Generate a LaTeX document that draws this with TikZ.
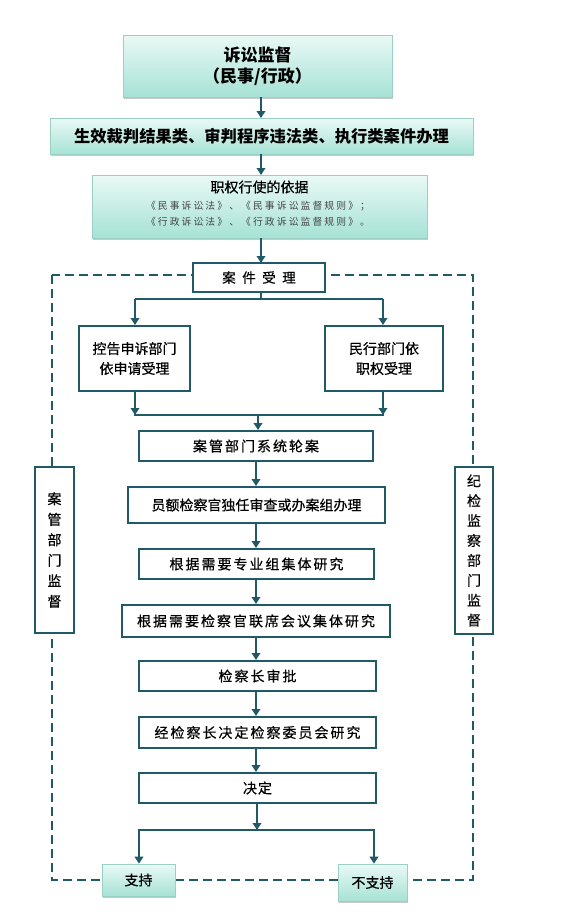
\documentclass[tikz,border=0pt]{standalone}
\usepackage{fontspec}
\setmainfont{Noto Sans CJK SC}
\newfontfamily\cjkm[FakeBold=0.5]{Noto Sans CJK SC}
\usetikzlibrary{arrows.meta,shadows}
\definecolor{tealdk}{HTML}{1F5A66}
\definecolor{mint}{HTML}{A6E2D5}
\definecolor{mintlt}{HTML}{EAF9F6}
\definecolor{mintbd}{HTML}{9CCFC4}
\definecolor{subgray}{HTML}{444444}
\makeatletter
\def\ls@end{\ls@end}
\newcommand\ls[2]{\def\ls@amt{#1}\ls@a#2\ls@end}
\def\ls@a#1#2{#1\ifx#2\ls@end\else\hspace{\ls@amt}\expandafter\ls@a\expandafter#2\fi}
\makeatother
\tikzset{
  gbox/.style={draw=mintbd, line width=0.6pt, top color=mintlt, bottom color=mint,
     drop shadow={shadow xshift=1pt, shadow yshift=-1.5pt, fill=black!35, opacity=0.6},
     inner sep=0pt, align=center, text=black},
  fbox/.style={draw=tealdk, line width=2pt, fill=white, inner sep=0pt, align=center, text=black,
     font=\cjkm\fontsize{14}{20}\selectfont},
  txt/.style={inner sep=0pt, text=black},
  arr/.style={draw=tealdk, line width=2.4pt, -{Triangle[width=8.5pt,length=7pt]}},
  ln/.style={draw=tealdk, line width=2.4pt},
  dsh/.style={draw=tealdk, line width=2pt, dash pattern=on 9pt off 5pt},
}
\begin{document}
\begin{tikzpicture}[x=1pt,y=-1pt]
\useasboundingbox[fill=white] (0,0) rectangle (570,919);
% dashed frame
\draw[dsh] (52,275) rectangle (473,880);
% top boxes
\node[gbox, minimum width=269pt, minimum height=62pt, font=\bfseries\fontsize{17}{21}\selectfont] (b1) at (257.5,66) {诉讼监督\\（民事/行政）};
\node[gbox, minimum width=423pt, minimum height=36pt, font=\bfseries\fontsize{16.3}{20}\selectfont] (b2) at (261.5,136) {生效裁判结果类、审判程序违法类、执行类案件办理};
\node[gbox, minimum width=335pt, minimum height=63pt] (b3) at (259.5,206.5) {};
\node[txt, font=\cjkm\fontsize{14}{18}\selectfont] (b3t) at (259.5,187) {职权行使的依据};
\node[txt, text=subgray, font=\fontsize{9.8}{12}\selectfont] (b3a) at (258,206) {\ls{2.1pt}{《民事诉讼法》、《民事诉讼监督规则》；}};
\node[txt, text=subgray, font=\fontsize{9.8}{12}\selectfont] (b3b) at (258,222) {\ls{2.1pt}{《行政诉讼法》、《行政诉讼监督规则》。}};
% case acceptance
\node[fbox, minimum width=132pt, minimum height=29pt, font=\cjkm\fontsize{13.5}{16}\selectfont] (acc) at (259,277.5) {\ls{6.5pt}{案件受理}};
\node[fbox, minimum width=111pt, minimum height=65pt] (L) at (134.5,358.5) {控告申诉部门\\依申请受理};
\node[fbox, minimum width=118pt, minimum height=65pt] (R) at (384,358.5) {民行部门依\\职权受理};
\node[fbox, minimum width=234pt, minimum height=30pt] (A) at (256,446) {\ls{2pt}{案管部门系统轮案}};
\node[fbox, minimum width=257pt, minimum height=36pt] (B) at (256.5,505) {员额检察官独任审查或办案组办理};
\node[fbox, minimum width=235pt, minimum height=30pt] (C) at (256.5,564) {\ls{2pt}{根据需要专业组集体研究}};
\node[fbox, minimum width=268pt, minimum height=32pt] (D) at (256,621) {\ls{2pt}{根据需要检察官联席会议集体研究}};
\node[fbox, minimum width=237pt, minimum height=30pt] (E) at (257.5,676) {\ls{2pt}{检察长审批}};
\node[fbox, minimum width=237pt, minimum height=31pt] (F) at (257.5,732.5) {\ls{2pt}{经检察长决定检察委员会研究}};
\node[fbox, minimum width=237pt, minimum height=30pt] (G) at (257.5,788) {\ls{1pt}{决定}};
% side boxes
\node[fbox, minimum width=39pt, minimum height=166pt, font=\cjkm\fontsize{14}{20.5}\selectfont] (SL) at (54.5,550) {案\\管\\部\\门\\监\\督};
\node[fbox, minimum width=38pt, minimum height=167pt, font=\cjkm\fontsize{14}{19.9}\selectfont] (SR) at (474,550.5) {纪\\检\\监\\察\\部\\门\\监\\督};
% result boxes
\node[gbox, minimum width=73pt, minimum height=32pt, font=\cjkm\fontsize{14}{18}\selectfont] (S1) at (138.5,880) {支持};
\node[gbox, minimum width=69pt, minimum height=37pt, font=\cjkm\fontsize{14}{18}\selectfont] (S2) at (372.5,882.5) {不支持};
% connectors
\coordinate (sp) at (261,299);
\coordinate (mg) at (258,415);
\draw[arr] (b1.south -| 261,0) -- (261,118);
\draw[arr] (b2.south -| 261,0) -- (261,175);
\draw[arr] (b3.south -| 261,0) -- (261,263);
\draw[ln] (acc.south -| sp) -- (sp);
\draw[ln] (135,299) -- (383,299);
\draw[arr] (135,299) -- (L.north -| 135,0);
\draw[arr] (383,299) -- (R.north -| 383,0);
\draw[arr] (L.south -| 135,0) -- (135,415);
\draw[arr] (R.south -| 383,0) -- (383,415);
\draw[ln] (134,415) -- (384,415);
\draw[arr] (mg) -- (A.north -| mg);
\draw[arr] (A.south -| 256,0) -- (B.north -| 256,0);
\draw[arr] (B.south -| 256,0) -- (C.north -| 256,0);
\draw[arr] (C.south -| 256,0) -- (D.north -| 256,0);
\draw[arr] (D.south -| 256,0) -- (E.north -| 256,0);
\draw[arr] (E.south -| 256,0) -- (F.north -| 256,0);
\draw[arr] (F.south -| 256,0) -- (G.north -| 256,0);
\draw[arr] (G.south -| 257,0) -- (257,830);
\draw[ln] (138,830) -- (375,830);
\draw[arr] (139,830) -- (S1.north -| 139,0);
\draw[arr] (374,830) -- (S2.north -| 374,0);
\end{tikzpicture}
\end{document}
